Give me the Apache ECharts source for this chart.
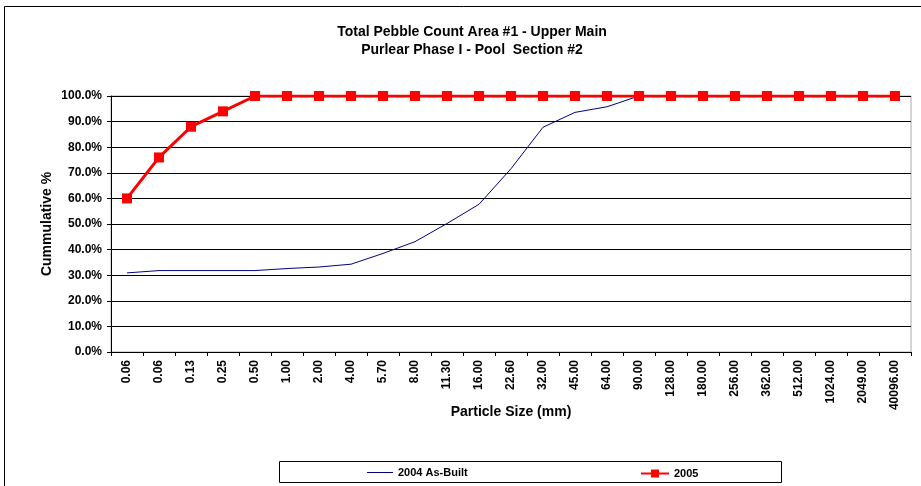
<!DOCTYPE html>
<html>
<head>
<meta charset="utf-8">
<script src="https://cdn.jsdelivr.net/npm/echarts@6/dist/echarts.min.js"></script>
<style>
html, body { margin: 0; padding: 0; background: #fff; }
#main { width: 921px; height: 486px; }
</style>
</head>
<body>
<div id="main"></div>
<script>
// particle sizes (mm) on the category axis
var sizes = ['0.06', '0.06', '0.13', '0.25', '0.50', '1.00', '2.00', '4.00', '5.70', '8.00',
  '11.30', '16.00', '22.60', '32.00', '45.00', '64.00', '90.00', '128.00', '180.00', '256.00',
  '362.00', '512.00', '1024.00', '2049.00', '40096.00'];

// cumulative % values
var asBuilt2004 = [30.9, 31.8, 31.8, 31.8, 31.8, 32.6, 33.2, 34.3, 38.5, 43.1,
  50.2, 57.7, 71.6, 87.8, 93.6, 95.8, 100, 100, 100, 100,
  100, 100, 100, 100, 100];
var y2005 = [60, 76, 88, 94, 100, 100, 100, 100, 100, 100,
  100, 100, 100, 100, 100, 100, 100, 100, 100, 100,
  100, 100, 100, 100, 100];

var font = 'Arial, "Liberation Sans", sans-serif';

var chart = echarts.init(document.getElementById('main'));
chart.setOption({
  animation: false,
  backgroundColor: '#fff',
  title: {
    text: 'Total Pebble Count Area #1 - Upper Main\nPurlear Phase I - Pool  Section #2',
    left: 467,
    top: 18,
    textAlign: 'center',
    textStyle: { fontFamily: font, fontSize: 14, fontWeight: 'bold', color: '#000', lineHeight: 18 }
  },
  legend: [{
    data: [{ name: '2004 As-Built', icon: 'rect' }],
    left: 362,
    top: 462,
    itemWidth: 26,
    itemHeight: 1,
    textStyle: { fontFamily: font, fontSize: 11, fontWeight: 'bold', color: '#000' }
  }, {
    data: ['2005'],
    left: 635,
    top: 463,
    itemWidth: 28,
    itemHeight: 10,
    textStyle: { fontFamily: font, fontSize: 11, fontWeight: 'bold', color: '#000' }
  }],
  graphic: [{
    type: 'rect',
    shape: { x: 4.5, y: 6.5, width: 1000, height: 1000 },
    style: { fill: 'none', stroke: '#000', lineWidth: 1 },
    silent: true
  }, {
    type: 'rect',
    shape: { x: 279.5, y: 461.5, width: 502, height: 21 },
    style: { fill: '#fff', stroke: '#000', lineWidth: 1 },
    silent: true
  }],
  grid: {
    left: 111,
    right: 10,
    top: 96,
    bottom: 134,
    show: true,
    borderColor: '#aaa',
    borderWidth: 1
  },
  xAxis: {
    type: 'category',
    data: sizes,
    boundaryGap: true,
    name: 'Particle Size (mm)',
    nameLocation: 'middle',
    nameGap: 53,
    nameMoveOverlap: false,
    nameTextStyle: { fontFamily: font, fontSize: 14, fontWeight: 'bold', color: '#000' },
    axisLine: { lineStyle: { color: '#000', width: 1 } },
    axisTick: { show: true, length: 4, lineStyle: { color: '#000' } },
    axisLabel: {
      rotate: 90,
      interval: 0,
      margin: 8,
      fontFamily: font,
      fontSize: 12,
      fontWeight: 'bold',
      color: '#000'
    },
    splitLine: { show: false }
  },
  yAxis: {
    type: 'value',
    min: 0,
    max: 100,
    interval: 10,
    name: 'Cummulative %',
    nameLocation: 'middle',
    nameRotate: 90,
    nameGap: 57,
    nameMoveOverlap: false,
    nameTextStyle: { fontFamily: font, fontSize: 14, fontWeight: 'bold', color: '#000' },
    axisLine: { show: true, lineStyle: { color: '#000', width: 1 } },
    axisTick: { show: true, length: 4, lineStyle: { color: '#000' } },
    axisLabel: {
      margin: 9,
      fontFamily: font,
      fontSize: 12,
      fontWeight: 'bold',
      color: '#000',
      formatter: function (v) { return v.toFixed(1) + '%'; }
    },
    splitLine: { show: true, lineStyle: { color: '#000', width: 1 } }
  },
  series: [{
    name: '2004 As-Built',
    type: 'line',
    data: asBuilt2004,
    symbol: 'none',
    lineStyle: { color: '#000080', width: 1 },
    itemStyle: { color: '#000080' }
  }, {
    name: '2005',
    type: 'line',
    data: y2005,
    symbol: 'rect',
    symbolSize: 10,
    lineStyle: { color: '#ff0000', width: 3 },
    itemStyle: { color: '#ff0000' }
  }]
});
</script>
</body>
</html>
